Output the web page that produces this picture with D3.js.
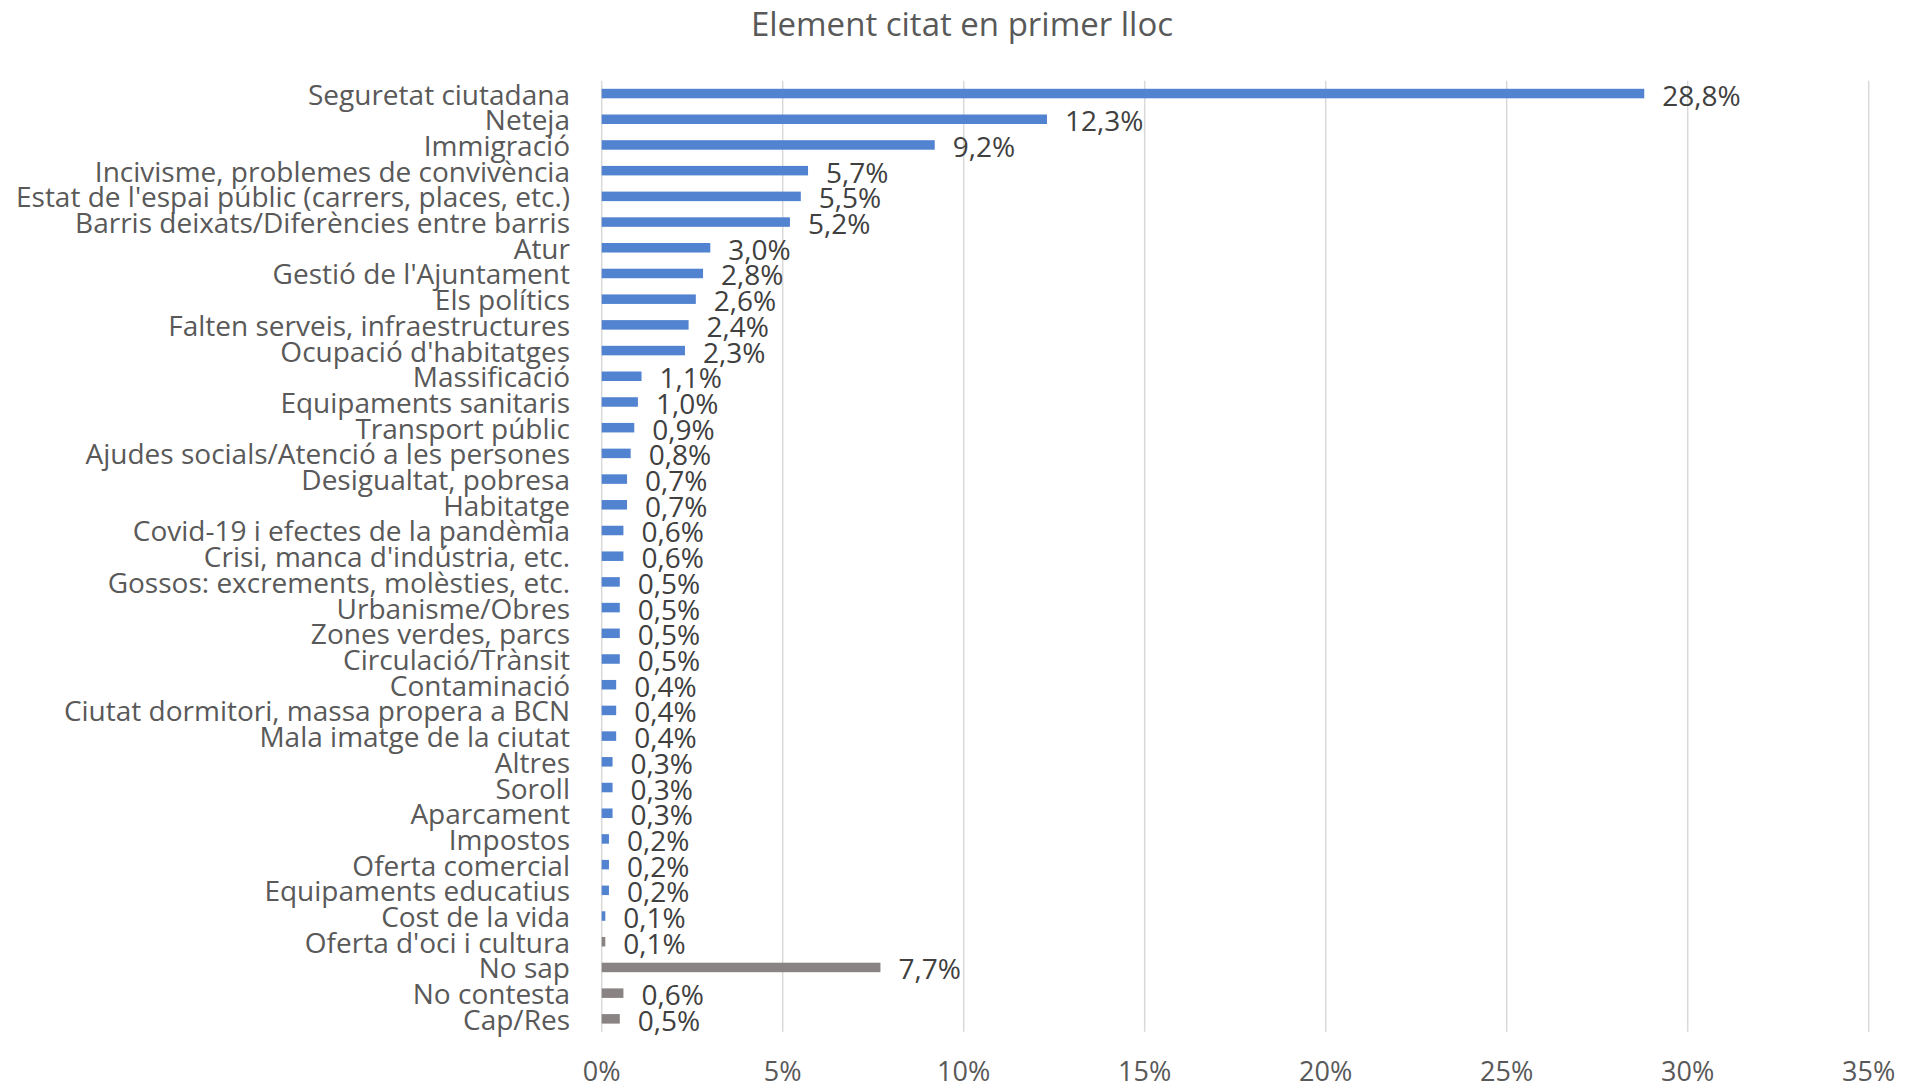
<!DOCTYPE html>
<html>
<head>
<meta charset="utf-8">
<script src="https://cdn.jsdelivr.net/npm/d3@7"></script>
<style>
  html, body { margin: 0; padding: 0; background: #fff; }
  text { font-family: "Open Sans", sans-serif; }
</style>
</head>
<body>
<svg id="canvas" width="1906" height="1086"></svg>
<script>
// data
var categories = [
  "Seguretat ciutadana", "Neteja", "Immigració", "Incivisme, problemes de convivència",
  "Estat de l'espai públic (carrers, places, etc.)", "Barris deixats/Diferències entre barris",
  "Atur", "Gestió de l'Ajuntament", "Els polítics", "Falten serveis, infraestructures",
  "Ocupació d'habitatges", "Massificació", "Equipaments sanitaris", "Transport públic",
  "Ajudes socials/Atenció a les persones", "Desigualtat, pobresa", "Habitatge",
  "Covid-19 i efectes de la pandèmia", "Crisi, manca d'indústria, etc.",
  "Gossos: excrements, molèsties, etc.", "Urbanisme/Obres", "Zones verdes, parcs",
  "Circulació/Trànsit", "Contaminació", "Ciutat dormitori, massa propera a BCN",
  "Mala imatge de la ciutat", "Altres", "Soroll", "Aparcament", "Impostos",
  "Oferta comercial", "Equipaments educatius", "Cost de la vida", "Oferta d'oci i cultura",
  "No sap", "No contesta", "Cap/Res"
];
var values = [28.8, 12.3, 9.2, 5.7, 5.5, 5.2, 3.0, 2.8, 2.6, 2.4, 2.3, 1.1, 1.0, 0.9, 0.8,
  0.7, 0.7, 0.6, 0.6, 0.5, 0.5, 0.5, 0.5, 0.4, 0.4, 0.4, 0.3, 0.3, 0.3, 0.2, 0.2, 0.2,
  0.1, 0.1, 7.7, 0.6, 0.5];
// which group each bar belongs to (grey = non-answers)
var groups = categories.map(function(d, i){ return i >= 33 ? "other" : "topic"; });
var xTicks = [0, 5, 10, 15, 20, 25, 30, 35];
var title = "Element citat en primer lloc";

// ************************************************************************************** //
// Layout

var chart = {};
chart.left = 601.7; chart.right = 1868.7;
chart.top = 80.7; chart.bottom = 1031.7;

var svg = d3.select('#canvas');
var fmt = function(v){ return d3.format('.1f')(v).replace('.', ',') + '%'; };

var x = d3.scaleLinear().domain([0, 35]).range([chart.left, chart.right]);
var y = d3.scaleBand().domain(categories).range([chart.top, chart.bottom]).padding(0);
var color = d3.scaleOrdinal().domain(["topic", "other"]).range(["#5283d0", "#898483"]);

// title
svg.append('text')
  .attr('x', 962).attr('y', 36)
  .attr('text-anchor', 'middle')
  .style('font-size', '33px').style('fill', '#595959')
  .text(title);

// gridlines
svg.append('g').selectAll('line').data(xTicks).join('line')
  .attr('x1', function(d){ return x(d); }).attr('x2', function(d){ return x(d); })
  .attr('y1', chart.top).attr('y2', chart.bottom)
  .style('stroke', '#d9d9d9').style('stroke-width', 1.5);

// x tick labels
svg.append('g').selectAll('text').data(xTicks).join('text')
  .attr('x', function(d){ return x(d); }).attr('y', 1081)
  .attr('text-anchor', 'middle')
  .style('font-size', '27px').style('fill', '#595959')
  .text(function(d){ return d + '%'; });

// bars
var barH = y.bandwidth() * 0.37;
svg.append('g').selectAll('rect').data(values).join('rect')
  .attr('x', x(0))
  .attr('y', function(d, i){ return y(categories[i]) + y.bandwidth()/2 - barH/2; })
  .attr('width', function(d){ return x(d) - x(0); })
  .attr('height', barH)
  .style('fill', function(d, i){ return color(groups[i]); });

// category labels
svg.append('g').selectAll('text').data(categories).join('text')
  .attr('x', 570)
  .attr('y', function(d){ return y(d) + y.bandwidth()/2 + 11; })
  .attr('text-anchor', 'end')
  .style('font-size', '28px').style('fill', '#595959')
  .text(function(d){ return d; });

// value labels
svg.append('g').selectAll('text').data(values).join('text')
  .attr('x', function(d){ return x(d) + 18; })
  .attr('y', function(d, i){ return y(categories[i]) + y.bandwidth()/2 + 12; })
  .style('font-size', '28px').style('fill', '#404040')
  .text(function(d){ return fmt(d); });
</script>
</body>
</html>
